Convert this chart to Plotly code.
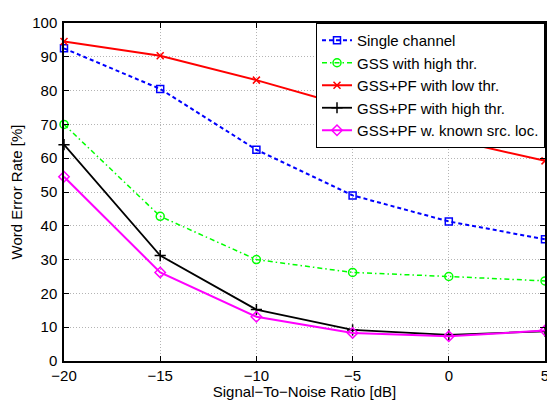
import plotly.graph_objects as go

snr = [-20, -15, -10, -5, 0, 5]
single_channel = [92.5, 80.5, 62.5, 49.0, 41.3, 36.0]
gss_high = [70.0, 42.8, 30.0, 26.2, 25.0, 23.7]
gsspf_low = [94.5, 90.3, 83.1, 75.0, 65.7, 59.2]
gsspf_high = [64.0, 31.2, 15.2, 9.2, 7.7, 8.8]
gsspf_known = [54.5, 26.2, 13.1, 8.3, 7.3, 9.0]

names = ["Single channel", "GSS with high thr.", "GSS+PF with low thr.",
         "GSS+PF with high thr.", "GSS+PF w. known src. loc."]

fig = go.Figure()
fig.add_trace(go.Scatter(x=snr, y=single_channel, name=names[0], mode="lines+markers", cliponaxis=False,
                         line=dict(color="#0000ff", width=2, dash="4px,3px"),
                         marker=dict(symbol="square-open", size=7, color="#0000ff", line=dict(width=1.5))))
fig.add_trace(go.Scatter(x=snr, y=gss_high, name=names[1], mode="lines+markers", cliponaxis=False,
                         line=dict(color="#00ff00", width=1.5, dash="5px,3px,1.5px,3px"),
                         marker=dict(symbol="circle-open", size=8, color="#00ff00", line=dict(width=1.5))))
fig.add_trace(go.Scatter(x=snr, y=gsspf_low, name=names[2], mode="lines+markers", cliponaxis=False,
                         line=dict(color="#ff0000", width=2),
                         marker=dict(symbol="x-thin", size=7, color="#ff0000", line=dict(width=1.5, color="#ff0000"))))
fig.add_trace(go.Scatter(x=snr, y=gsspf_high, name=names[3], mode="lines+markers", cliponaxis=False,
                         line=dict(color="#000000", width=1.8),
                         marker=dict(symbol="cross-thin", size=8, color="#000000", line=dict(width=1.5, color="#000000"))))
fig.add_trace(go.Scatter(x=snr, y=gsspf_known, name=names[4], mode="lines+markers", cliponaxis=False,
                         line=dict(color="#ff00ff", width=2),
                         marker=dict(symbol="diamond-open", size=8, color="#ff00ff", line=dict(width=1.5))))

axis_common = dict(showline=True, linecolor="black", linewidth=1.5, mirror="ticks",
                   ticks="inside", ticklen=5, tickcolor="black",
                   showgrid=True, gridcolor="#b4b4b4", griddash="1px,2px", gridwidth=1,
                   zeroline=False, tickfont=dict(size=15, color="black"),
                   ticklabeloverflow="allow")

fig.update_xaxes(range=[-20, 5], dtick=5, tick0=-20,
                 title=dict(text="Signal\u2212To\u2212Noise Ratio [dB]", font=dict(size=15, color="black"), standoff=0),
                 **axis_common)
fig.update_yaxes(range=[0, 100], dtick=10, ticklabelstandoff=2,
                 title=dict(text="Word Error Rate [%]", font=dict(size=15, color="black"), standoff=8),
                 **axis_common)

# page body has an 8px default margin, so the figure is sized/margined to compensate
fig.update_layout(
    width=547, height=392,
    margin=dict(l=50, r=6, t=7, b=34),
    paper_bgcolor="white", plot_bgcolor="white",
    font=dict(family="Liberation Sans, Arial, sans-serif", size=15, color="black"),
    showlegend=True,
    legend=dict(x=1, y=1, xanchor="right", yanchor="top",
                bgcolor="white", bordercolor="black", borderwidth=1,
                font=dict(size=15), tracegroupgap=0, itemwidth=30),
)

fig.write_html("out.html")
